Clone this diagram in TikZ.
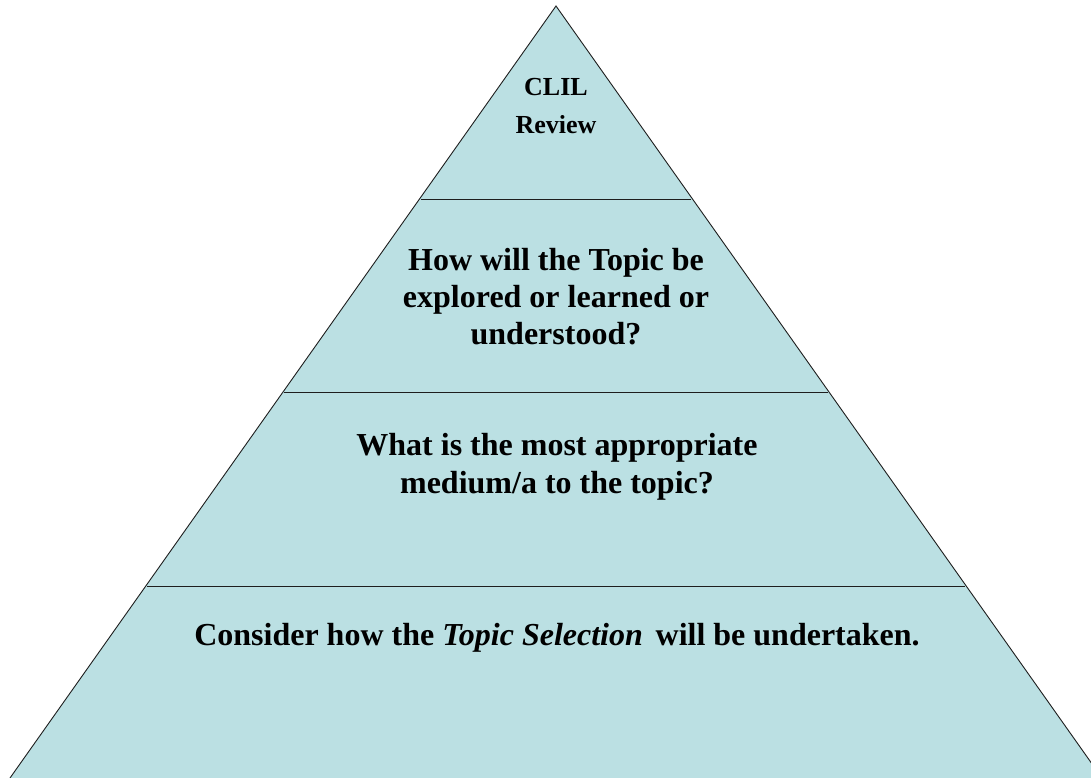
\documentclass[tikz,border=0pt]{standalone}
\usepackage{fontspec}
\setmainfont{Liberation Serif}
\definecolor{pyrfill}{RGB}{187,224,227}
\definecolor{pyrline}{RGB}{30,30,30}
\begin{document}
\begin{tikzpicture}[x=1pt,y=-1pt,
  layertext/.style={align=center,inner sep=0pt,anchor=base,font=\bfseries\fontsize{32}{37}\selectfont},
  toptext/.style={align=center,inner sep=0pt,anchor=base,font=\bfseries\fontsize{26}{38}\selectfont},
  divider/.style={draw=pyrline,line width=0.9pt}]
\useasboundingbox (0,0) rectangle (1091,778);
\clip (0,0) rectangle (1091,778);
\coordinate (apex) at (556,6);
\coordinate (bl) at (10,778);
\coordinate (br) at (1102,778);
\fill[pyrfill] (apex) -- (bl) -- (br) -- cycle;
\draw[pyrline,line width=0.9pt] (bl) -- (apex) -- (br);
\coordinate (l1) at (421,199); \coordinate (r1) at (691,199);
\coordinate (l2) at (284,392); \coordinate (r2) at (828,392);
\coordinate (l3) at (147,586); \coordinate (r3) at (965,586);
\draw[divider] (l1) -- (r1);
\draw[divider] (l2) -- (r2);
\draw[divider] (l3) -- (r3);
% base anchor of a multi-line node is the baseline of its last line
\node[toptext] (t1) at (556,134) {CLIL\\Review};
\node[layertext] (t2) at (556,344) {How will the Topic be\\explored or learned or\\understood?};
\node[layertext,font=\bfseries\fontsize{32}{38}\selectfont] (t3) at (557,493) {What is the most appropriate\\medium/a to the topic?};
\node[layertext] (t4) at (557,645) {Consider how the \textit{Topic Selection}\hspace{0.4em}will be undertaken.};
\end{tikzpicture}
\end{document}
